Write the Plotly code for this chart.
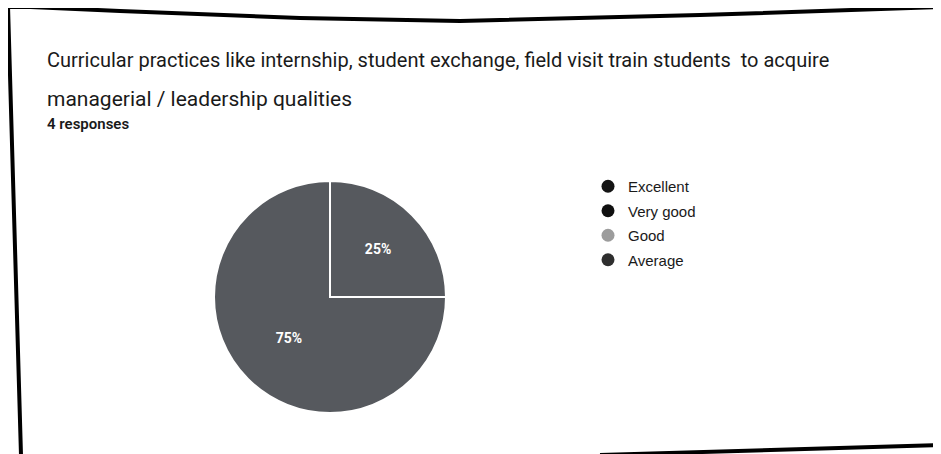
import plotly.graph_objects as go

# The page body has an 8px margin, so the figure is drawn 8px in from the
# window's top-left corner; size it so it fills the 941x454 window exactly.
OFF = 8
W, H = 941 - OFF, 454 - OFF

categories = ["Excellent", "Very good", "Good", "Average"]
responses = [1, 3, 0, 0]
legend_colors = ["#141414", "#101010", "#9c9c9c", "#2e2e2e"]
slice_colors = ["#56595e", "#56595e", "#9c9c9c", "#2e2e2e"]

title_line1 = "Curricular practices like internship, student exchange, field visit train students  to acquire"
title_line2 = "managerial / leadership qualities"
subtitle = "4 responses"


def px(x):
    return (x - OFF) / W


def py(y):
    return 1 - (y - OFF) / H


fig = go.Figure()

cx, cy, r = 330, 297, 116
fig.add_trace(go.Pie(
    labels=categories,
    values=responses,
    sort=False,
    direction="clockwise",
    rotation=0,
    marker=dict(colors=slice_colors, line=dict(color="white", width=2)),
    texttemplate="%{percent:.0%}",
    textposition="inside",
    insidetextorientation="horizontal",
    textfont=dict(family="Roboto", size=14, color="white", weight="bold"),
    showlegend=False,
    hoverinfo="label+percent",
    domain=dict(x=[px(cx - r), px(cx + r)], y=[py(cy + r), py(cy - r)]),
))

for i, (cat, col) in enumerate(zip(categories, legend_colors)):
    fig.add_trace(go.Scatter(
        x=[None], y=[None], mode="markers", name=cat,
        marker=dict(color=col, size=13, symbol="circle"),
        legendgroup=f"g{i}", showlegend=True,
    ))

fig.update_layout(
    width=W, height=H,
    margin=dict(l=0, r=0, t=0, b=0),
    paper_bgcolor="white", plot_bgcolor="white",
    xaxis=dict(visible=False), yaxis=dict(visible=False),
    legend=dict(
        x=px(588), y=py(170), xanchor="left", yanchor="top",
        font=dict(family="Arial", size=15, color="#1a1a1a"),
        tracegroupgap=2, itemwidth=30, bgcolor="rgba(0,0,0,0)",
    ),
    annotations=[
        dict(text=title_line1, x=px(45), y=py(60), xref="paper", yref="paper",
             xanchor="left", yanchor="middle", showarrow=False,
             font=dict(family="Roboto", size=20, color="#1a1a1a")),
        dict(text=title_line2, x=px(45), y=py(99), xref="paper", yref="paper",
             xanchor="left", yanchor="middle", showarrow=False,
             font=dict(family="Roboto", size=21, color="#1a1a1a")),
        dict(text=subtitle, x=px(45), y=py(124), xref="paper", yref="paper",
             xanchor="left", yanchor="middle", showarrow=False,
             font=dict(family="Roboto", size=15, color="#1a1a1a", weight=600)),
    ],
    shapes=[
        dict(type="path", xref="paper", yref="paper",
             path="M {:.4f},{:.4f} L {:.4f},{:.4f} L {:.4f},{:.4f} L {:.4f},{:.4f} L {:.4f},{:.4f} L {:.4f},{:.4f} L {:.4f},{:.4f}".format(
                 px(21), py(454), px(8), py(6), px(120), py(11), px(300), py(18),
                 px(460), py(21), px(700), py(15), px(941), py(7)),
             line=dict(color="black", width=4)),
        dict(type="line", xref="paper", yref="paper",
             x0=px(600), y0=py(455), x1=px(941), y1=py(445),
             line=dict(color="black", width=4)),
        dict(type="line", xref="paper", yref="paper",
             x0=px(939), y0=py(8), x1=px(939), y1=py(45),
             line=dict(color="#777777", width=1)),
    ],
)

fig.write_html("out.html")
